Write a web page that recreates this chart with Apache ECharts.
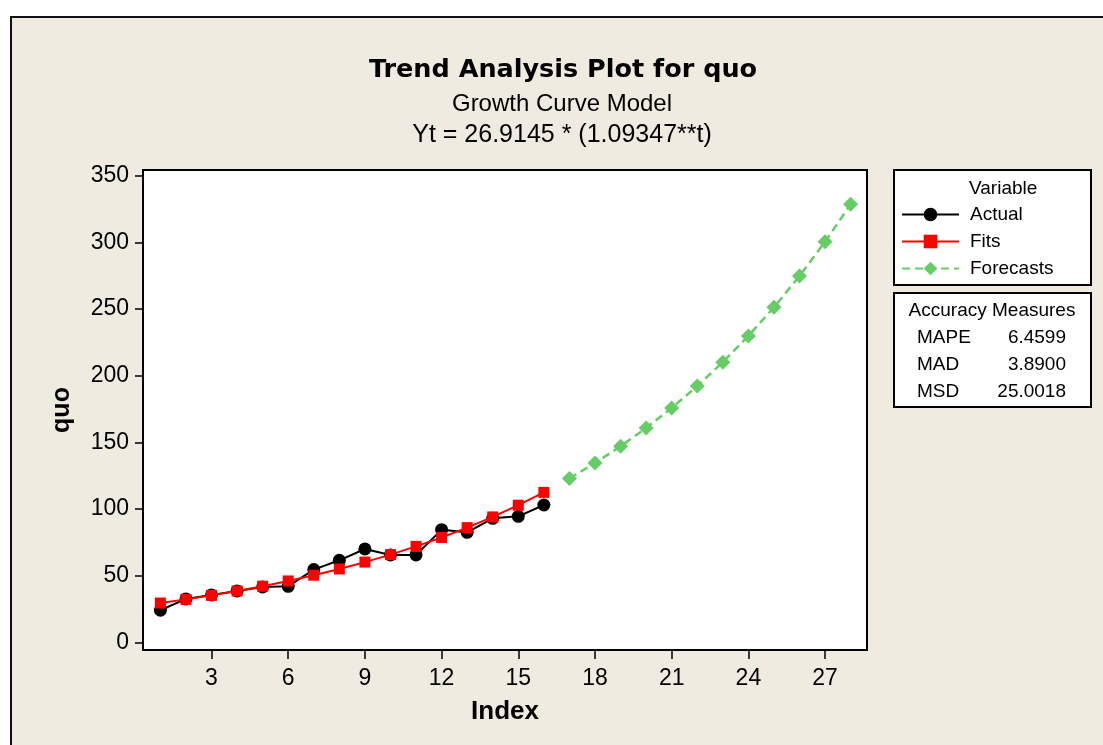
<!DOCTYPE html>
<html>
<head>
<meta charset="utf-8">
<script src="https://cdn.jsdelivr.net/npm/echarts@6/dist/echarts.min.js"></script>
<style>
  html, body { margin: 0; padding: 0; background: #ffffff; overflow: hidden; }
  #panel { position: absolute; left: 10px; top: 16px; width: 1200px; height: 800px;
           background: #efebe1; border: 2px solid #111; box-sizing: border-box; }
  #chart { position: absolute; left: 0; top: 0; width: 1103px; height: 745px; }
</style>
</head>
<body>
<div id="panel"></div>
<div id="chart"></div>
<script>
// ---- data ----
const actualIndex = [1, 2, 3, 4, 5, 6, 7, 8, 9, 10, 11, 12, 13, 14, 15, 16];
const actualValues = [24, 32.5, 35.5, 38.5, 41.5, 42, 54.5, 61.5, 70, 65.5, 65.5, 84.5, 82.5, 93, 94.5, 103];
const fitValues = [29.43, 32.18, 35.19, 38.48, 42.07, 46.01, 50.31, 55.01, 60.15, 65.77, 71.92, 78.64, 86.0, 94.03, 102.82, 112.43];
const forecastIndex = [17, 18, 19, 20, 21, 22, 23, 24, 25, 26, 27, 28];
const forecastValues = [122.94, 134.43, 147.0, 160.74, 175.76, 192.19, 210.16, 229.8, 251.28, 274.76, 300.45, 328.53];
const xTicks = [3, 6, 9, 12, 15, 18, 21, 24, 27];
const yTicks = [0, 50, 100, 150, 200, 250, 300, 350];
const accuracyNames = ['MAPE', 'MAD', 'MSD'];
const accuracyValues = ['6.4599', '3.8900', '25.0018'];
const titleText = 'Trend Analysis Plot for quo';
const subtitleText = 'Growth Curve Model';
const formulaText = 'Yt = 26.9145 * (1.09347**t)';

const FONT = '"Liberation Sans", Arial, sans-serif';
const TFONT = '"DejaVu Sans", Verdana, sans-serif';
const pairs = (xs, ys) => xs.map((x, i) => [x, ys[i]]);

const graphics = [
  { type: 'text', x: 563, y: 70, style: { text: titleText, font: 'bold 25.5px ' + TFONT, fill: '#000', textAlign: 'center', textVerticalAlign: 'middle' } },
  { type: 'text', x: 562, y: 104, style: { text: subtitleText, font: '24px ' + FONT, fill: '#000', textAlign: 'center', textVerticalAlign: 'middle' } },
  { type: 'text', x: 562, y: 135, style: { text: formulaText, font: '25px ' + FONT, fill: '#000', textAlign: 'center', textVerticalAlign: 'middle' } },
  { type: 'rect', shape: { x: 894, y: 170, width: 197, height: 115 }, style: { fill: '#fff', stroke: '#000', lineWidth: 2 }, z: 0 },
  { type: 'rect', shape: { x: 894, y: 293, width: 197, height: 114 }, style: { fill: '#fff', stroke: '#000', lineWidth: 2 }, z: 0 },
  { type: 'text', x: 969, y: 189, z: 5, style: { text: 'Variable', font: '19px ' + FONT, fill: '#000', textAlign: 'left', textVerticalAlign: 'middle' } },
  { type: 'text', x: 992, y: 311, z: 5, style: { text: 'Accuracy Measures', font: '19px ' + FONT, fill: '#000', textAlign: 'center', textVerticalAlign: 'middle' } }
];
accuracyNames.forEach((n, i) => {
  graphics.push({ type: 'text', x: 917, y: 338 + i * 27, z: 5, style: { text: n, font: '19px ' + FONT, fill: '#000', textAlign: 'left', textVerticalAlign: 'middle' } });
  graphics.push({ type: 'text', x: 1066, y: 338 + i * 27, z: 5, style: { text: accuracyValues[i], font: '19px ' + FONT, fill: '#000', textAlign: 'right', textVerticalAlign: 'middle' } });
});

const chart = echarts.init(document.getElementById('chart'), null, { renderer: 'canvas' });
chart.setOption({
  backgroundColor: 'transparent',
  animation: false,
  textStyle: { fontFamily: FONT },
  graphic: graphics,
  grid: { left: 143, top: 170, width: 724, height: 480, show: true, backgroundColor: '#fff', borderColor: '#000', borderWidth: 2 },
  legend: {
    orient: 'vertical', left: 901, top: 205, padding: 0, itemGap: 8,
    itemWidth: 57, itemHeight: 17, z: 6,
    textStyle: { fontSize: 19, fontFamily: FONT, color: '#000', padding: [0, 0, 0, 6] },
    data: ['Actual', 'Fits', 'Forecasts']
  },
  xAxis: {
    type: 'value', min: 0.32, max: 28.64,
    name: 'Index', nameLocation: 'middle', nameGap: 49,
    nameTextStyle: { fontSize: 26, fontWeight: 'bold', color: '#000', fontFamily: FONT },
    axisLine: { show: true, onZero: false, lineStyle: { color: '#000', width: 2 } },
    axisTick: { show: true, length: 9, lineStyle: { color: '#000', width: 1.5 }, customValues: xTicks },
    axisLabel: { fontSize: 23, color: '#000', margin: 17, customValues: xTicks },
    splitLine: { show: false }
  },
  yAxis: {
    type: 'value', min: -5.8, max: 354.3,
    name: 'quo', nameLocation: 'middle', nameGap: 68, nameRotate: 90,
    nameTextStyle: { fontSize: 25, fontWeight: 'bold', color: '#000', fontFamily: FONT },
    axisLine: { show: true, onZero: false, lineStyle: { color: '#000', width: 2 } },
    axisTick: { show: true, length: 8, lineStyle: { color: '#000', width: 1.5 }, customValues: yTicks },
    axisLabel: { fontSize: 23, color: '#000', margin: 14, customValues: yTicks },
    splitLine: { show: false }
  },
  series: [
    {
      name: 'Actual', type: 'line', data: pairs(actualIndex, actualValues),
      symbol: 'circle', symbolSize: 13, z: 3,
      lineStyle: { color: '#000', width: 2 }, itemStyle: { color: '#000' }
    },
    {
      name: 'Fits', type: 'line', data: pairs(actualIndex, fitValues),
      symbol: 'rect', symbolSize: 11, z: 4,
      lineStyle: { color: '#ff0000', width: 2 }, itemStyle: { color: '#ff0000' }
    },
    {
      name: 'Forecasts', type: 'line', data: pairs(forecastIndex, forecastValues),
      symbol: 'diamond', symbolSize: 15, z: 4,
      lineStyle: { color: '#66cc66', width: 2.5, type: [8, 5] }, itemStyle: { color: '#66cc66' }
    }
  ]
});
</script>
</body>
</html>
